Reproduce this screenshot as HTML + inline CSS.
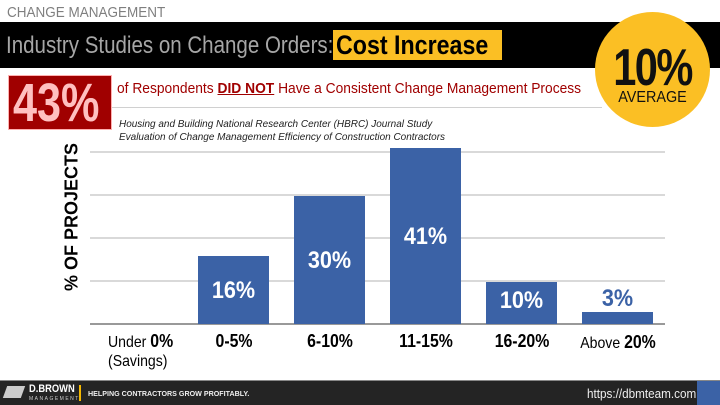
<!DOCTYPE html>
<html><head><meta charset="utf-8"><style>
*{margin:0;padding:0;box-sizing:border-box}
body{width:720px;height:405px;overflow:hidden;background:#fff;font-family:"Liberation Sans",Arial,sans-serif;position:relative}
.a{position:absolute;white-space:nowrap}
.n{transform-origin:0 0}
.grid{position:absolute;left:90px;width:575px;height:2px;background:#d9d9d9}
.bar{position:absolute;background:#3b62a6;width:71px;bottom:81px}
.bl{position:absolute;color:#fff;font-weight:bold;font-size:24px;width:71px;text-align:center;transform:scaleX(.9)}
.xl{position:absolute;top:331px;font-size:18px;font-weight:bold;width:96px;text-align:center;transform:scaleX(.88)}
</style></head><body>
<div class="a n" style="left:7px;top:4px;font-size:15px;color:#7f7f7f;transform:scaleX(.9)">CHANGE MANAGEMENT</div>
<div class="a" style="left:0;top:22px;width:720px;height:46px;background:#000"></div>
<div class="a n" style="left:6px;top:32px;font-size:24px;color:#a6a6a6;transform:scaleX(.855)">Industry Studies on Change Orders:</div>
<div class="a" style="left:333px;top:30px;width:169px;height:30px;background:#fbbf24"></div>
<div class="a n" style="left:336px;top:30px;font-size:27px;font-weight:bold;color:#000;transform:scaleX(.86)">Cost Increase</div>
<div class="a" style="left:112px;top:107px;width:490px;height:1px;background:#d0d0d0"></div>
<div class="a" style="left:8px;top:75px;width:104px;height:55px;background:#a00000;border:1px solid #ffb0b0"></div>
<div class="a n" style="left:13px;top:72px;font-size:54px;font-weight:bold;color:#ffc0c0;transform:scaleX(.8)">43%</div>
<div class="a n" style="left:117px;top:80px;font-size:15px;color:#a00000;transform:scaleX(.92)">of Respondents <b style="text-decoration:underline">DID NOT</b> Have a Consistent Change Management Process</div>
<div class="a n" style="left:119px;top:118px;font-size:10.5px;font-style:italic;color:#222;line-height:13px;transform:scaleX(.95)">Housing and Building National Research Center (HBRC) Journal Study<br>Evaluation of Change Management Efficiency of Construction Contractors</div>
<div class="a" style="left:595px;top:12px;width:115px;height:115px;border-radius:50%;background:#fbbf24"></div>
<div class="a" style="left:595px;top:38px;width:115px;text-align:center;font-size:52px;font-weight:bold;color:#111;transform:scaleX(.8);letter-spacing:-2px">10%</div>
<div class="a" style="left:595px;top:89px;width:115px;text-align:center;font-size:16px;color:#111;transform:scaleX(.9)">AVERAGE</div>
<div class="grid" style="top:151px"></div>
<div class="grid" style="top:194px"></div>
<div class="grid" style="top:237px"></div>
<div class="grid" style="top:280px"></div>
<div class="grid" style="top:323px;background:#999"></div>
<div class="a" style="left:72px;top:217px;transform:translate(-50%,-50%) rotate(-90deg);font-size:18px;font-weight:bold;color:#000">% OF PROJECTS</div>
<div class="bar" style="left:198px;top:256px"></div>
<div class="bar" style="left:294px;top:196px"></div>
<div class="bar" style="left:390px;top:148px"></div>
<div class="bar" style="left:486px;top:282px"></div>
<div class="bar" style="left:582px;top:312px"></div>
<div class="bl" style="left:198px;top:277px">16%</div>
<div class="bl" style="left:294px;top:247px">30%</div>
<div class="bl" style="left:390px;top:223px">41%</div>
<div class="bl" style="left:486px;top:287px">10%</div>
<div class="bl" style="left:582px;top:285px;color:#3b62a6">3%</div>
<div class="a n" style="left:108px;top:332px;font-size:16px;line-height:19px;transform:scaleX(.88)">Under <b style="font-size:18px">0%</b><br>(Savings)</div>
<div class="xl" style="left:186px">0-5%</div>
<div class="xl" style="left:282px">6-10%</div>
<div class="xl" style="left:378px">11-15%</div>
<div class="xl" style="left:474px">16-20%</div>
<div class="xl" style="left:570px;font-weight:normal;font-size:16px;top:332px">Above <b style="font-size:18px">20%</b></div>
<div class="a" style="left:0;top:380px;width:720px;height:25px;background:#242424;border-top:1px solid #888"></div>
<div class="a" style="left:697px;top:381px;width:23px;height:24px;background:#3b62a6"></div>
<div class="a" style="left:5px;top:386px;width:18px;height:12px;background:#ccc;transform:skewX(-20deg)"></div>
<div class="a n" style="left:29px;top:383px;font-size:11px;font-weight:bold;color:#fff;transform:scaleX(.85)">D.BROWN</div>
<div class="a" style="left:29px;top:396px;font-size:5px;letter-spacing:1.5px;color:#ccc">MANAGEMENT</div>
<div class="a" style="left:79px;top:385px;width:2px;height:16px;background:#f5b800"></div>
<div class="a n" style="left:88px;top:389px;font-size:7.5px;font-weight:bold;color:#eee;transform:scaleX(.95)">HELPING CONTRACTORS GROW PROFITABLY.</div>
<div class="a n" style="left:587px;top:386px;font-size:13px;color:#eee;transform:scaleX(.9)">https://dbmteam.com</div>
</body></html>
